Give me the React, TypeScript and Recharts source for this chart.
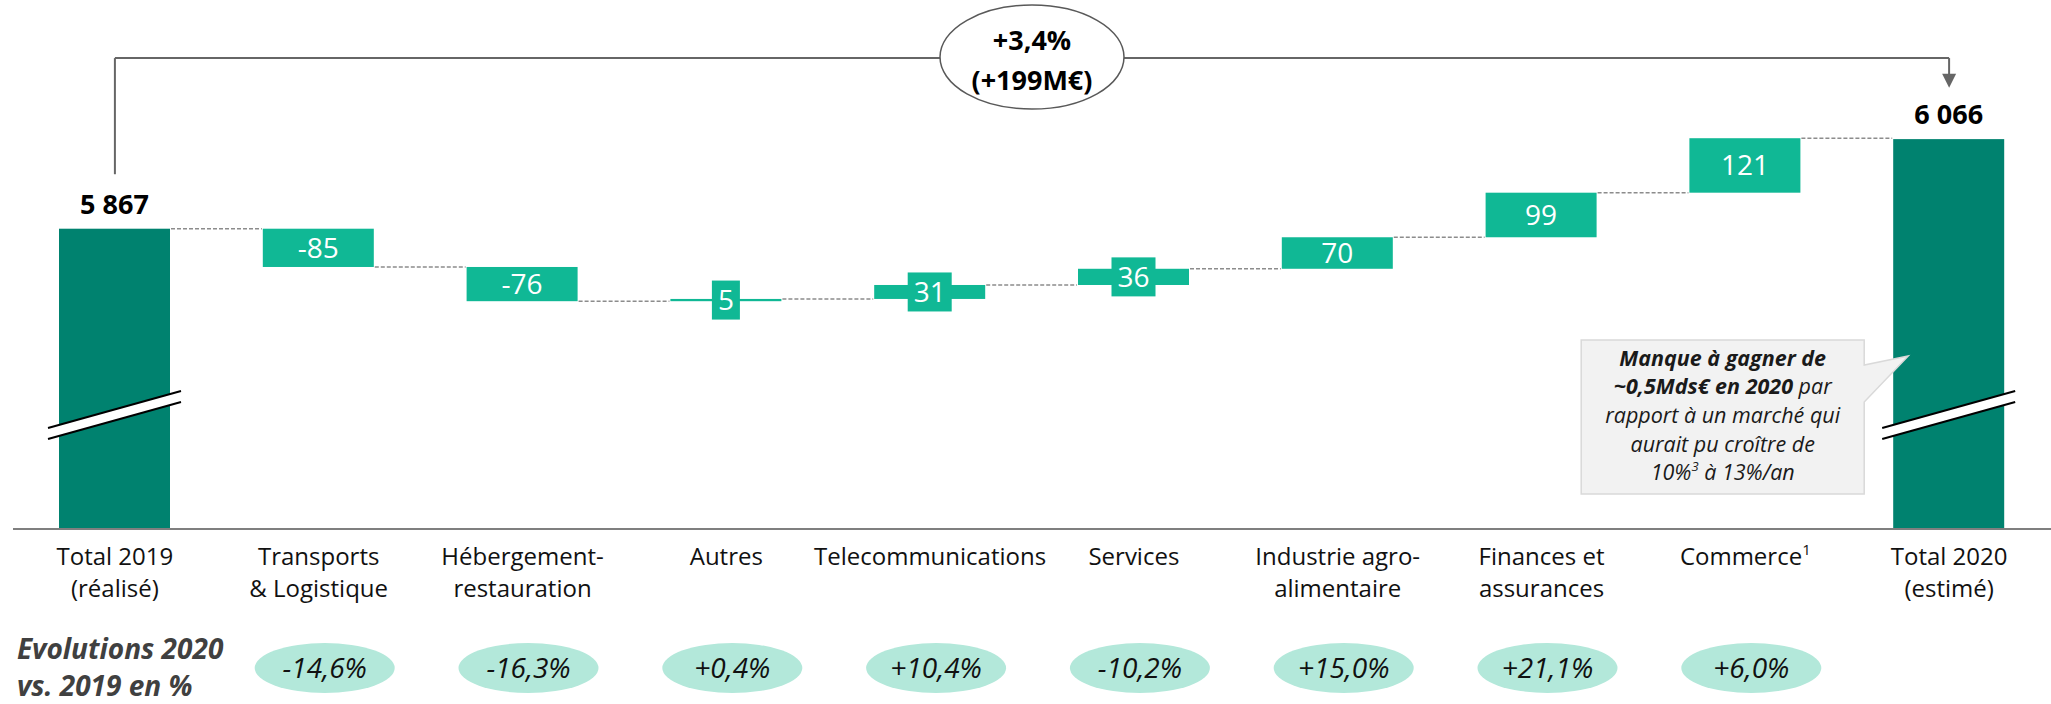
import React from 'react';
import { BarChart, Bar, XAxis, YAxis, ReferenceLine } from 'recharts';

// ---------- data ----------
const categories = [
  'Total 2019 (réalisé)',
  'Transports & Logistique',
  'Hébergement-restauration',
  'Autres',
  'Telecommunications',
  'Services',
  'Industrie agro-alimentaire',
  'Finances et assurances',
  'Commerce',
  'Total 2020 (estimé)',
];
const categoryLines = [
  ['Total 2019', '(réalisé)'],
  ['Transports', '& Logistique'],
  ['Hébergement-', 'restauration'],
  ['Autres'],
  ['Telecommunications'],
  ['Services'],
  ['Industrie agro-', 'alimentaire'],
  ['Finances et', 'assurances'],
  ['Commerce'],
  ['Total 2020', '(estimé)'],
];
const categoryNotes = ['', '', '', '', '', '', '', '', '1', ''];
const total2019 = 5867;
const total2020 = 6066;
const deltas = [-85, -76, 5, 31, 36, 70, 99, 121];
const evolutions = ['', '-14,6%', '-16,3%', '+0,4%', '+10,4%', '-10,2%', '+15,0%', '+21,1%', '+6,0%', ''];
const yDomain = [5200, 6375];
const bracketLevel = 6246;
const leftStubEnd = 5988;
const arrowTip = 6180;
const bracketTexts = ['+3,4%', '(+199M€)'];
const rowHeader = ['Evolutions 2020', 'vs. 2019 en %'];

// ---------- layout ----------
const CHART_W = 2051;
const CHART_H = 704;
const MARGIN = { top: 0, right: 0, bottom: 0, left: 13 };
const STEP = (CHART_W - MARGIN.left - MARGIN.right) / categories.length;
const FONT = "'Open Sans', 'DejaVu Sans', sans-serif";
const TOTAL_COLOR = '#00826f';
const DELTA_COLOR = '#10b895';

const fmt = (n: number) => String(n).replace(/\B(?=(\d{3})+(?!\d))/g, ' ');

let level = total2019;
const rows = categories.map((name, i) => {
  if (i === 0) {
    return { name, kind: 'total', range: [yDomain[0], total2019], label: fmt(total2019), endAtBottom: false, last: false };
  }
  if (i === categories.length - 1) {
    return { name, kind: 'total', range: [yDomain[0], total2020], label: fmt(total2020), endAtBottom: false, last: true };
  }
  const d = deltas[i - 1];
  const start = level;
  level += d;
  return {
    name,
    kind: 'delta',
    range: [Math.min(start, level), Math.max(start, level)],
    label: String(d),
    endAtBottom: d < 0,
    last: false,
  };
});

const BarShape = (p: any) => {
  const { x, y, width, height, payload } = p;
  const isTotal = payload.kind === 'total';
  const cx = x + width / 2;
  const bottom = y + height;
  const h = Math.max(height, 1.5);
  const els: any[] = [];
  els.push(<rect key="r" x={x} y={y} width={width} height={h} fill={isTotal ? TOTAL_COLOR : DELTA_COLOR} />);

  if (!payload.last) {
    const ly = payload.endAtBottom ? bottom : y;
    els.push(
      <line key="c" x1={x + width + 1} x2={x + STEP - 1} y1={ly} y2={ly} stroke="#8c8c8c" strokeWidth={1.5} strokeDasharray="4 2" />
    );
  }

  if (isTotal) {
    // axis break
    const bx0 = x - 11;
    const bx1 = x + width + 11;
    const a0 = bottom - 101;
    const a1 = bottom - 138;
    const g = 11;
    els.push(
      <g key="b">
        <polygon points={`${bx0},${a0} ${bx1},${a1} ${bx1},${a1 + g} ${bx0},${a0 + g}`} fill="#fff" />
        <line x1={bx0} y1={a0} x2={bx1} y2={a1} stroke="#000" strokeWidth={2} />
        <line x1={bx0} y1={a0 + g} x2={bx1} y2={a1 + g} stroke="#000" strokeWidth={2} />
      </g>
    );
    els.push(
      <text key="t" x={cx} y={y - 15} textAnchor="middle" fontFamily={FONT} fontWeight={700} fontSize={27} fill="#000">
        {payload.label}
      </text>
    );
    if (payload.last) {
      const bx0c = x - 312;
      const bx1c = x - 29;
      const by0 = bottom - 189;
      const by1 = bottom - 35;
      const tx = (bx0c + bx1c) / 2;
      const fs = 21.5;
      els.push(
        <g key="callout" fontFamily={FONT} fontSize={fs} fontStyle="italic" fill="#1a1a1a" textAnchor="middle">
          <path
            d={`M${bx0c},${by0} H${bx1c} V${bottom - 164} L${x + 15},${bottom - 173} L${bx1c},${bottom - 127} V${by1} H${bx0c} Z`}
            fill="#f2f2f2"
            stroke="#d9d9d9"
            strokeWidth={1.5}
          />
          <text x={tx} y={bottom - 163} fontWeight={700}>Manque à gagner de</text>
          <text x={tx} y={bottom - 135}>
            <tspan fontWeight={700}>~0,5Mds€ en 2020</tspan> par
          </text>
          <text x={tx} y={bottom - 106}>rapport à un marché qui</text>
          <text x={tx} y={bottom - 77}>aurait pu croître de</text>
          <text x={tx} y={bottom - 49}>
            10%<tspan dy={-9} fontSize={13}>3</tspan>
            <tspan dy={9}> à 13%/an</tspan>
          </text>
        </g>
      );
    }
  } else {
    const cy = y + height / 2;
    const fs = 28;
    const tw = payload.label.replace('-', '').length * 16 + (payload.label.startsWith('-') ? 9 : 0);
    if (height < 28) {
      els.push(<rect key="lb" x={cx - tw / 2 - 6} y={cy - 19.5} width={tw + 12} height={39} fill={DELTA_COLOR} />);
    }
    els.push(
      <text key="t" x={cx} y={cy + 10} textAnchor="middle" fontFamily={FONT} fontSize={fs} fill="#fff">
        {payload.label}
      </text>
    );
  }
  return <g>{els}</g>;
};

const CategoryTick = (p: any) => {
  const { x, y, payload } = p;
  const i = categories.indexOf(payload.value);
  const lines = categoryLines[i] || [payload.value];
  const evo = evolutions[i];
  return (
    <g fontFamily={FONT}>
      {lines.map((l, k) => (
        <text key={k} x={x} y={y + 36 + k * 32} textAnchor="middle" fontSize={24} fill="#111">
          {l}
          {k === lines.length - 1 && categoryNotes[i] ? (
            <tspan dy={-10} fontSize={15}>{categoryNotes[i]}</tspan>
          ) : null}
        </text>
      ))}
      {evo ? (
        <g>
          <ellipse cx={x + 6} cy={y + 139} rx={70} ry={25} fill="#b3e8da" />
          <text x={x + 6} y={y + 149} textAnchor="middle" fontSize={28} fontStyle="italic" fill="#111">
            {evo}
          </text>
        </g>
      ) : null}
      {i === 0 ? (
        <g fontWeight={700} fontStyle="italic" fontSize={28} fill="#404040">
          <text x={x - 98} y={y + 130}>{rowHeader[0]}</text>
          <text x={x - 98} y={y + 167}>{rowHeader[1]}</text>
        </g>
      ) : null}
    </g>
  );
};

const BracketShape = (p: any) => {
  const { x1, y1, x2, y2 } = p;
  const mx = (x1 + x2) / 2;
  return (
    <g>
      <line x1={x1} y1={y1} x2={x2} y2={y2} stroke="#666" strokeWidth={2} />
      <ellipse cx={mx} cy={y1 - 1} rx={92} ry={52} fill="#fff" stroke="#595959" strokeWidth={1.5} />
      <text x={mx} y={y1 - 8} textAnchor="middle" fontFamily={FONT} fontWeight={700} fontSize={27} fill="#000">
        {bracketTexts[0]}
      </text>
      <text x={mx} y={y1 + 32} textAnchor="middle" fontFamily={FONT} fontWeight={700} fontSize={27} fill="#000">
        {bracketTexts[1]}
      </text>
    </g>
  );
};

const StubShape = (p: any) => {
  const { x1, y1, x2, y2 } = p;
  return <line x1={x1} y1={y1} x2={x2} y2={y2} stroke="#666" strokeWidth={2} />;
};

const ArrowShape = (p: any) => {
  const { x1, y1, x2, y2 } = p;
  const tipY = Math.max(y1, y2);
  const topY = Math.min(y1, y2);
  return (
    <g>
      <line x1={x1} y1={topY} x2={x2} y2={tipY - 12} stroke="#666" strokeWidth={2} />
      <polygon points={`${x2 - 7},${tipY - 14} ${x2 + 7},${tipY - 14} ${x2},${tipY}`} fill="#666" />
    </g>
  );
};

export default function App() {
  const first = categories[0];
  const lastC = categories[categories.length - 1];
  return (
    <div style={{ width: CHART_W, height: CHART_H, background: '#fff' }}>
      <style>{'body{margin:0;background:#fff;}'}</style>
      <BarChart width={CHART_W} height={CHART_H} data={rows} margin={MARGIN}>
        <XAxis
          dataKey="name"
          type="category"
          height={175}
          axisLine={{ stroke: '#7f7f7f', strokeWidth: 2 }}
          tickLine={false}
          tickSize={0}
          tickMargin={0}
          interval={0}
          tick={<CategoryTick />}
        />
        <YAxis type="number" domain={yDomain} hide />
        <Bar dataKey="range" barSize={111} isAnimationActive={false} shape={<BarShape />} />
        <ReferenceLine
          segment={[{ x: first, y: bracketLevel }, { x: lastC, y: bracketLevel }]}
          shape={BracketShape}
          ifOverflow="visible"
        />
        <ReferenceLine
          segment={[{ x: first, y: bracketLevel }, { x: first, y: leftStubEnd }]}
          shape={StubShape}
          ifOverflow="visible"
        />
        <ReferenceLine
          segment={[{ x: lastC, y: bracketLevel }, { x: lastC, y: arrowTip }]}
          shape={ArrowShape}
          ifOverflow="visible"
        />
      </BarChart>
    </div>
  );
}
